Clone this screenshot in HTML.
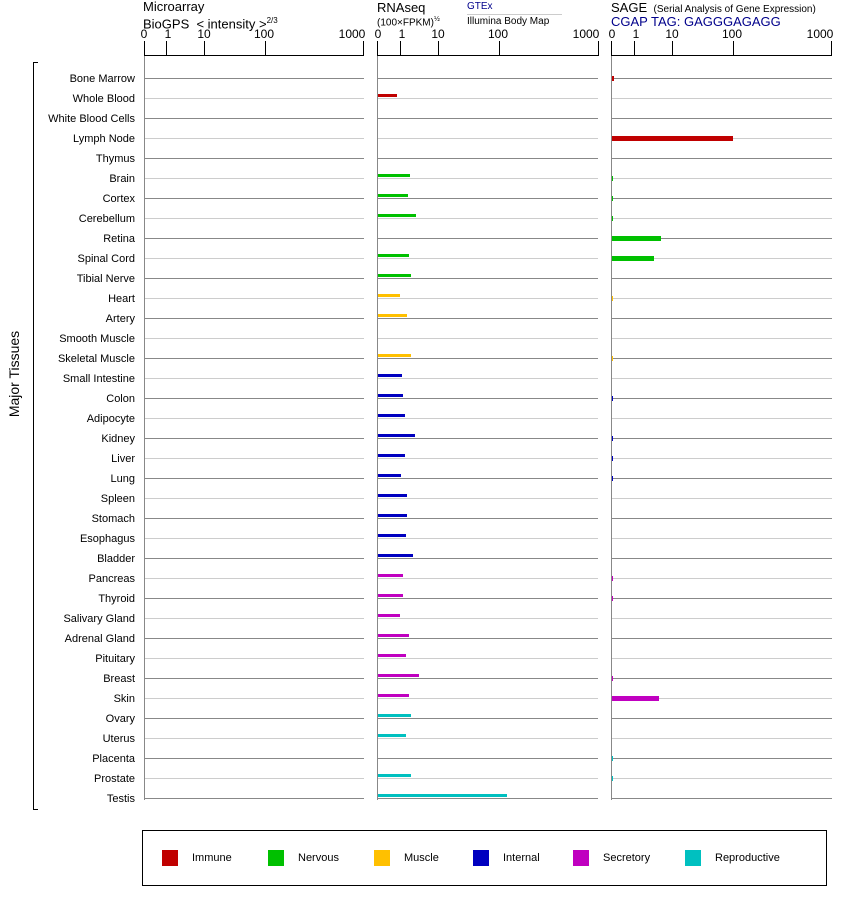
<!DOCTYPE html>
<html><head><meta charset="utf-8"><style>
body{margin:0;background:#fff;width:842px;height:900px;position:relative;overflow:hidden;font-family:"Liberation Sans",Arial,sans-serif;color:#000}
.a{position:absolute}
.rows{position:absolute;top:68px;height:732px;background:repeating-linear-gradient(to bottom,transparent 0,transparent 10px,#888 10px,#888 11px,transparent 11px,transparent 30px,#ccc 30px,#ccc 31px,transparent 31px,transparent 40px)}
.v{position:absolute;top:56px;height:744px;width:1px;background:#888}
.ax{position:absolute;top:55px;height:1px;background:#000}
.tk{position:absolute;top:41px;height:15px;width:1px;background:#000}
.tl{position:absolute;top:27px;font-size:12px;transform:translateX(-50%)}
.lab{position:absolute;right:707px;font-size:11px;white-space:nowrap}
.b{position:absolute;height:3px;left:378px}
.c{position:absolute;height:5px;left:612px}
.sq{position:absolute;top:850px;width:16px;height:16px}
.lt{position:absolute;top:852px;font-size:11px}
</style></head><body>
<div class="a" style="left:143px;top:0;font-size:13px;line-height:14px">Microarray<br>BioGPS &nbsp;&lt; intensity &gt;<sup style="font-size:8px">2/3</sup></div>
<div class="a" style="left:377px;top:0;font-size:13px">RNAseq</div>
<div class="a" style="left:377px;top:16px;font-size:10px">(100×FPKM)<sup style="font-size:7px">½</sup></div>
<div class="a" style="left:467px;top:1px;font-size:10px;color:#00008b">GTEx</div>
<div class="a" style="left:467px;top:14px;width:95px;height:1px;background:#ccc"></div>
<div class="a" style="left:467px;top:16px;font-size:10px">Illumina Body Map</div>
<div class="a" style="left:611px;top:0;font-size:13px">SAGE <span style="font-size:10px">&nbsp;(Serial Analysis of Gene Expression)</span></div>
<div class="a" style="left:611px;top:14px;font-size:13px;color:#00008b">CGAP TAG: GAGGGAGAGG</div>

<div class="ax" style="left:144px;width:220px"></div>
<div class="tk" style="left:144px"></div><div class="tk" style="left:166px"></div><div class="tk" style="left:204px"></div><div class="tk" style="left:265px"></div><div class="tk" style="left:363px"></div>
<div class="tl" style="left:144px">0</div><div class="tl" style="left:168px">1</div><div class="tl" style="left:204px">10</div><div class="tl" style="left:264px">100</div><div class="tl" style="left:352px">1000</div>
<div class="ax" style="left:377px;width:222px"></div>
<div class="tk" style="left:377px"></div><div class="tk" style="left:400px"></div><div class="tk" style="left:438px"></div><div class="tk" style="left:499px"></div><div class="tk" style="left:598px"></div>
<div class="tl" style="left:378px">0</div><div class="tl" style="left:402px">1</div><div class="tl" style="left:438px">10</div><div class="tl" style="left:498px">100</div><div class="tl" style="left:586px">1000</div>
<div class="ax" style="left:611px;width:221px"></div>
<div class="tk" style="left:611px"></div><div class="tk" style="left:634px"></div><div class="tk" style="left:672px"></div><div class="tk" style="left:733px"></div><div class="tk" style="left:831px"></div>
<div class="tl" style="left:612px">0</div><div class="tl" style="left:636px">1</div><div class="tl" style="left:672px">10</div><div class="tl" style="left:732px">100</div><div class="tl" style="left:820px">1000</div>

<div class="rows" style="left:145px;width:219px"></div>
<div class="rows" style="left:378px;width:220px"></div>
<div class="rows" style="left:612px;width:220px"></div>
<div class="v" style="left:144px"></div><div class="v" style="left:377px"></div><div class="v" style="left:611px"></div>

<div class="a" style="left:33px;top:62px;width:1px;height:748px;background:#000"></div>
<div class="a" style="left:33px;top:62px;width:5px;height:1px;background:#000"></div>
<div class="a" style="left:33px;top:809px;width:5px;height:1px;background:#000"></div>
<div class="a" style="left:14px;top:374px;font-size:14px;transform:translate(-50%,-50%) rotate(-90deg);white-space:nowrap">Major Tissues</div>

<div class="lab" style="top:73px">Bone Marrow</div>
<div class="lab" style="top:93px">Whole Blood</div>
<div class="lab" style="top:113px">White Blood Cells</div>
<div class="lab" style="top:133px">Lymph Node</div>
<div class="lab" style="top:153px">Thymus</div>
<div class="lab" style="top:173px">Brain</div>
<div class="lab" style="top:193px">Cortex</div>
<div class="lab" style="top:213px">Cerebellum</div>
<div class="lab" style="top:233px">Retina</div>
<div class="lab" style="top:253px">Spinal Cord</div>
<div class="lab" style="top:273px">Tibial Nerve</div>
<div class="lab" style="top:293px">Heart</div>
<div class="lab" style="top:313px">Artery</div>
<div class="lab" style="top:333px">Smooth Muscle</div>
<div class="lab" style="top:353px">Skeletal Muscle</div>
<div class="lab" style="top:373px">Small Intestine</div>
<div class="lab" style="top:393px">Colon</div>
<div class="lab" style="top:413px">Adipocyte</div>
<div class="lab" style="top:433px">Kidney</div>
<div class="lab" style="top:453px">Liver</div>
<div class="lab" style="top:473px">Lung</div>
<div class="lab" style="top:493px">Spleen</div>
<div class="lab" style="top:513px">Stomach</div>
<div class="lab" style="top:533px">Esophagus</div>
<div class="lab" style="top:553px">Bladder</div>
<div class="lab" style="top:573px">Pancreas</div>
<div class="lab" style="top:593px">Thyroid</div>
<div class="lab" style="top:613px">Salivary Gland</div>
<div class="lab" style="top:633px">Adrenal Gland</div>
<div class="lab" style="top:653px">Pituitary</div>
<div class="lab" style="top:673px">Breast</div>
<div class="lab" style="top:693px">Skin</div>
<div class="lab" style="top:713px">Ovary</div>
<div class="lab" style="top:733px">Uterus</div>
<div class="lab" style="top:753px">Placenta</div>
<div class="lab" style="top:773px">Prostate</div>
<div class="lab" style="top:793px">Testis</div>

<!-- RNAseq bars -->
<div class="b" style="top:94px;width:19px;background:#c00000"></div>
<div class="b" style="top:174px;width:32px;background:#00c000"></div>
<div class="b" style="top:194px;width:30px;background:#00c000"></div>
<div class="b" style="top:214px;width:38px;background:#00c000"></div>
<div class="b" style="top:254px;width:31px;background:#00c000"></div>
<div class="b" style="top:274px;width:33px;background:#00c000"></div>
<div class="b" style="top:294px;width:22px;background:#ffc000"></div>
<div class="b" style="top:314px;width:29px;background:#ffc000"></div>
<div class="b" style="top:354px;width:33px;background:#ffc000"></div>
<div class="b" style="top:374px;width:24px;background:#0000c0"></div>
<div class="b" style="top:394px;width:25px;background:#0000c0"></div>
<div class="b" style="top:414px;width:27px;background:#0000c0"></div>
<div class="b" style="top:434px;width:37px;background:#0000c0"></div>
<div class="b" style="top:454px;width:27px;background:#0000c0"></div>
<div class="b" style="top:474px;width:23px;background:#0000c0"></div>
<div class="b" style="top:494px;width:29px;background:#0000c0"></div>
<div class="b" style="top:514px;width:29px;background:#0000c0"></div>
<div class="b" style="top:534px;width:28px;background:#0000c0"></div>
<div class="b" style="top:554px;width:35px;background:#0000c0"></div>
<div class="b" style="top:574px;width:25px;background:#c000c0"></div>
<div class="b" style="top:594px;width:25px;background:#c000c0"></div>
<div class="b" style="top:614px;width:22px;background:#c000c0"></div>
<div class="b" style="top:634px;width:31px;background:#c000c0"></div>
<div class="b" style="top:654px;width:28px;background:#c000c0"></div>
<div class="b" style="top:674px;width:41px;background:#c000c0"></div>
<div class="b" style="top:694px;width:31px;background:#c000c0"></div>
<div class="b" style="top:714px;width:33px;background:#00c0c0"></div>
<div class="b" style="top:734px;width:28px;background:#00c0c0"></div>
<div class="b" style="top:774px;width:33px;background:#00c0c0"></div>
<div class="b" style="top:794px;width:129px;background:#00c0c0"></div>

<!-- SAGE bars -->
<div class="c" style="top:76px;width:2px;background:#c00000"></div>
<div class="c" style="top:136px;width:121px;background:#c00000"></div>
<div class="c" style="top:176px;width:1px;background:#00c000"></div>
<div class="c" style="top:196px;width:1px;background:#00c000"></div>
<div class="c" style="top:216px;width:1px;background:#00c000"></div>
<div class="c" style="top:236px;width:49px;background:#00c000"></div>
<div class="c" style="top:256px;width:42px;background:#00c000"></div>
<div class="c" style="top:296px;width:1px;background:#ffc000"></div>
<div class="c" style="top:356px;width:1px;background:#ffc000"></div>
<div class="c" style="top:396px;width:1px;background:#0000c0"></div>
<div class="c" style="top:436px;width:1px;background:#0000c0"></div>
<div class="c" style="top:456px;width:1px;background:#0000c0"></div>
<div class="c" style="top:476px;width:1px;background:#0000c0"></div>
<div class="c" style="top:576px;width:1px;background:#c000c0"></div>
<div class="c" style="top:596px;width:1px;background:#c000c0"></div>
<div class="c" style="top:676px;width:1px;background:#c000c0"></div>
<div class="c" style="top:696px;width:47px;background:#c000c0"></div>
<div class="c" style="top:756px;width:1px;background:#00c0c0"></div>
<div class="c" style="top:776px;width:1px;background:#00c0c0"></div>

<!-- legend -->
<div class="a" style="left:142px;top:830px;width:683px;height:54px;border:1px solid #000"></div>
<div class="sq" style="left:162px;background:#c00000"></div><div class="lt" style="left:192px">Immune</div>
<div class="sq" style="left:268px;background:#00c000"></div><div class="lt" style="left:298px">Nervous</div>
<div class="sq" style="left:374px;background:#ffc000"></div><div class="lt" style="left:404px">Muscle</div>
<div class="sq" style="left:473px;background:#0000c0"></div><div class="lt" style="left:503px">Internal</div>
<div class="sq" style="left:573px;background:#c000c0"></div><div class="lt" style="left:603px">Secretory</div>
<div class="sq" style="left:685px;background:#00c0c0"></div><div class="lt" style="left:715px">Reproductive</div>
</body></html>
